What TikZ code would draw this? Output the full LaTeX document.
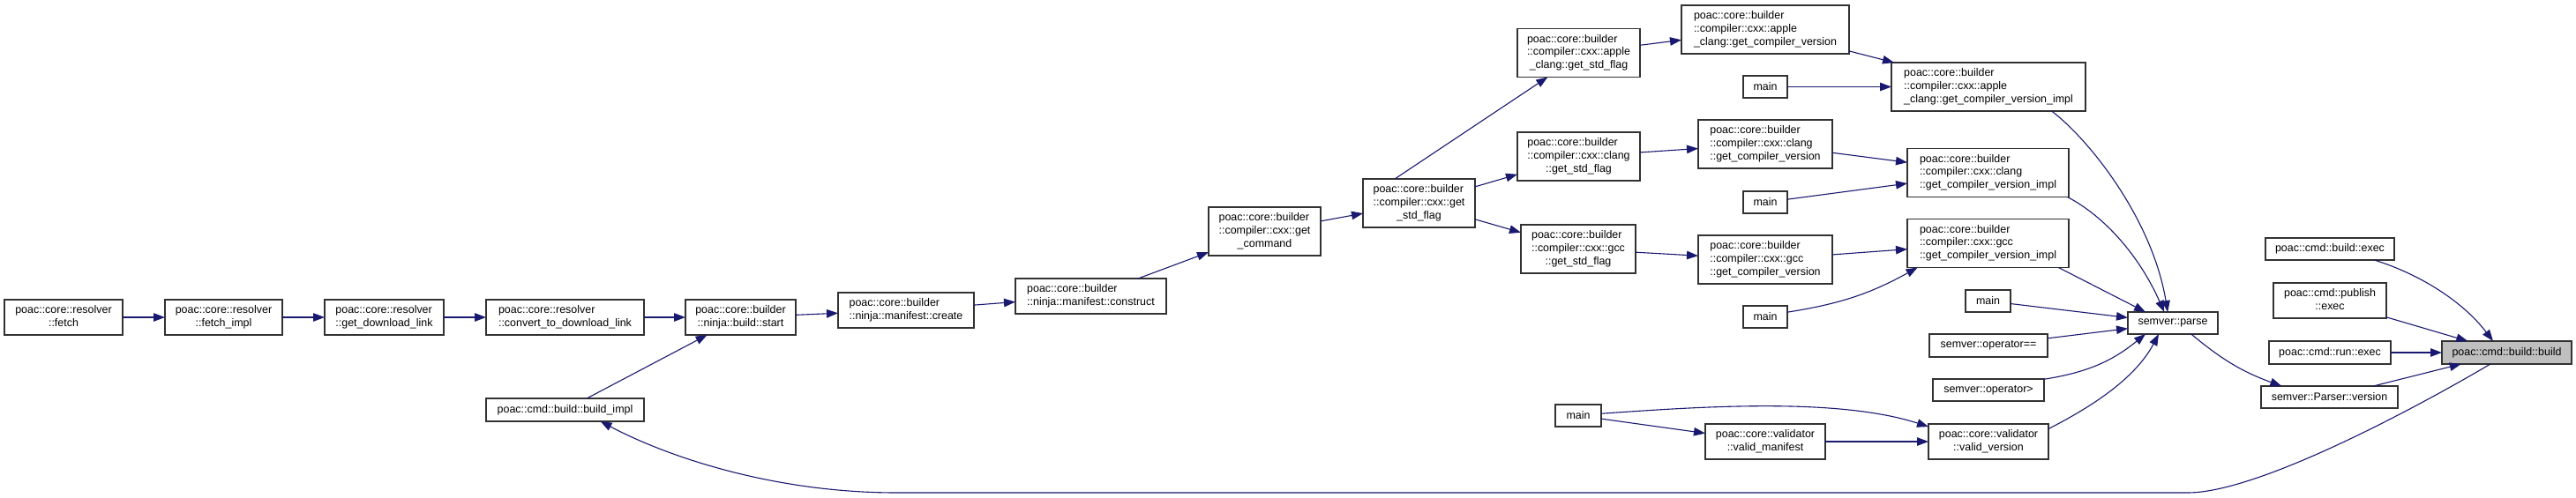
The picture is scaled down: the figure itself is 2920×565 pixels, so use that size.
\documentclass[tikz,border=0pt]{standalone}
\usepackage{fontspec}
\setmainfont{Liberation Sans}
\usetikzlibrary{arrows.meta}
\definecolor{edgecol}{RGB}{25,25,112}
\definecolor{bordercol}{RGB}{50,50,50}
\definecolor{selfill}{RGB}{191,191,191}
\newcommand{\ml}[2]{\begin{tabular}{@{}l@{}}#1\\\multicolumn{1}{@{}c@{}}{#2}\end{tabular}}
\newcommand{\bx}[7][white]{\node[box,fill=#1,minimum width=#5bp,minimum height=#6bp] (#2) at (#3,-#4) {#7};}
\begin{document}
\begin{tikzpicture}[x=1bp,y=1bp,
  box/.style={draw=bordercol,line width=1.1bp,inner sep=0pt,outer sep=0pt,font=\fontsize{12.5}{15}\selectfont},
  e/.style={draw=edgecol,line width=1.1bp,-{Triangle[length=13bp,width=9.5bp,fill=edgecol]}}]
\useasboundingbox[fill=white] (0,0) rectangle (2920,-565);
% nodes
\bx{fetch}{72}{360}{134}{40}{\ml{poac::core::resolver}{::fetch}}
\bx{fetchimpl}{253.5}{360}{133}{40}{\ml{poac::core::resolver}{::fetch\_impl}}
\bx{getdl}{435.5}{360}{135}{40}{\ml{poac::core::resolver}{::get\_download\_link}}
\bx{convert}{640.5}{360}{179}{40}{\ml{poac::core::resolver}{::convert\_to\_download\_link}}
\bx{buildimpl}{640.5}{465}{179}{26}{poac::cmd::build::build\_impl}
\bx{start}{839.5}{360}{125}{40}{\ml{poac::core::builder}{::ninja::build::start}}
\bx{create}{1027}{352}{154}{40}{\ml{poac::core::builder}{::ninja::manifest::create}}
\bx{construct}{1236.5}{336}{171}{40}{\ml{poac::core::builder}{::ninja::manifest::construct}}
\bx{getcommand}{1433.5}{262.5}{127}{55}{\ml{poac::core::builder\\::compiler::cxx::get}{\_command}}
\bx{getstdflag}{1608.5}{230.5}{127}{55}{\ml{poac::core::builder\\::compiler::cxx::get}{\_std\_flag}}
\bx{applestd}{1789.5}{60}{139}{55}{\ml{poac::core::builder\\::compiler::cxx::apple}{\_clang::get\_std\_flag}}
\bx{clangstd}{1789.5}{177.5}{139}{55}{\ml{poac::core::builder\\::compiler::cxx::clang}{::get\_std\_flag}}
\bx{gccstd}{1789}{282.5}{130}{55}{\ml{poac::core::builder\\::compiler::cxx::gcc}{::get\_std\_flag}}
\bx{applecv}{2001}{33.5}{190}{55}{\ml{poac::core::builder\\::compiler::cxx::apple}{\_clang::get\_compiler\_version}}
\bx{mainA}{2001}{98.5}{50}{25}{main}
\bx{appleimpl}{2254}{98.5}{220}{55}{\ml{poac::core::builder\\::compiler::cxx::apple}{\_clang::get\_compiler\_version\_impl}}
\bx{clangcv}{2001}{163.5}{152}{55}{\ml{poac::core::builder\\::compiler::cxx::clang}{::get\_compiler\_version}}
\bx{clangimpl}{2253.5}{196}{183}{55}{\ml{poac::core::builder\\::compiler::cxx::clang}{::get\_compiler\_version\_impl}}
\bx{mainB}{2001}{229.5}{50}{25}{main}
\bx{gcccv}{2001}{294.5}{152}{55}{\ml{poac::core::builder\\::compiler::cxx::gcc}{::get\_compiler\_version}}
\bx{gccimpl}{2253.5}{276}{183}{55}{\ml{poac::core::builder\\::compiler::cxx::gcc}{::get\_compiler\_version\_impl}}
\bx{mainC}{2001}{359.5}{50}{25}{main}
\bx{mainD}{2253.5}{341.5}{51}{25}{main}
\bx{opeq}{2254}{392}{134}{26}{semver::operator==}
\bx{opgt}{2254}{442.5}{126}{25}{semver::operator>}
\bx{mainE}{1789}{471.5}{52}{25}{main}
\bx{validmanifest}{2001}{501}{136}{40}{\ml{poac::core::validator}{::valid\_manifest}}
\bx{validversion}{2254}{501}{136}{40}{\ml{poac::core::validator}{::valid\_version}}
\bx{parse}{2463}{366.5}{102}{25}{semver::parse}
\bx{buildexec}{2641}{282.5}{146}{25}{poac::cmd::build::exec}
\bx{publishexec}{2641}{341}{128}{40}{\ml{poac::cmd::publish}{::exec}}
\bx{runexec}{2641}{400}{138}{26}{poac::cmd::run::exec}
\bx[selfill]{build}{2841.5}{400}{147}{26}{poac::cmd::build::build}
\bx{parserversion}{2640.5}{450.5}{155}{25}{semver::Parser::version}
% edges
\draw[e] (fetch) -- (fetchimpl);
\draw[e] (fetchimpl) -- (getdl);
\draw[e] (getdl) -- (convert);
\draw[e] (convert) -- (start);
\draw[e] (buildimpl) -- (start);
\draw[e] (start) -- (create);
\draw[e] (create) -- (construct);
\draw[e] (construct) -- (getcommand);
\draw[e] (getcommand) -- (getstdflag);
\draw[e] (getstdflag.135) -- (applestd.218);
\draw[e] (getstdflag) -- (clangstd);
\draw[e] (getstdflag) -- (gccstd);
\draw[e] (applestd) -- (applecv);
\draw[e] (clangstd) -- (clangcv);
\draw[e] (gccstd) -- (gcccv);
\draw[e] (applecv) -- (appleimpl);
\draw[e] (mainA) -- (appleimpl);
\draw[e] (clangcv) -- (clangimpl);
\draw[e] (mainB) -- (clangimpl);
\draw[e] (gcccv) -- (gccimpl);
\draw[e] (mainC.12) to[bend right=10] (gccimpl.199);
\draw[e] (appleimpl.-21) .. controls (2370,-160) and (2440,-250) .. (parse.115);
\draw[e] (clangimpl.-17) .. controls (2385,-245) and (2425,-290) .. (parse.128);
\draw[e] (gccimpl.-19) -- (parse.158);
\draw[e] (mainD) -- (parse);
\draw[e] (opeq) -- (parse);
\draw[e] (opgt.11) to[bend right=15] (parse.202);
\draw[e] (validversion.12) .. controls (2370,-462) and (2420,-430) .. (parse.218);
\draw[e] (mainE.5) .. controls (1920,-462) and (2080,-450) .. (validversion.166);
\draw[e] (mainE) -- (validmanifest);
\draw[e] (validmanifest) -- (validversion);
\draw[e] (parse.-31) to[bend right=10] (parserversion.167);
\draw[e] (buildexec.-14) .. controls (2740,-310) and (2790,-340) .. (build.140);
\draw[e] (publishexec) -- (build);
\draw[e] (runexec) -- (build);
\draw[e] (parserversion) -- (build);
\draw[e] (build.215) .. controls (2740,-462) and (2560,-559) .. (2480,-559) -- (1016,-559) .. controls (880,-559) and (760,-520) .. (buildimpl.-18);
\end{tikzpicture}
\end{document}
